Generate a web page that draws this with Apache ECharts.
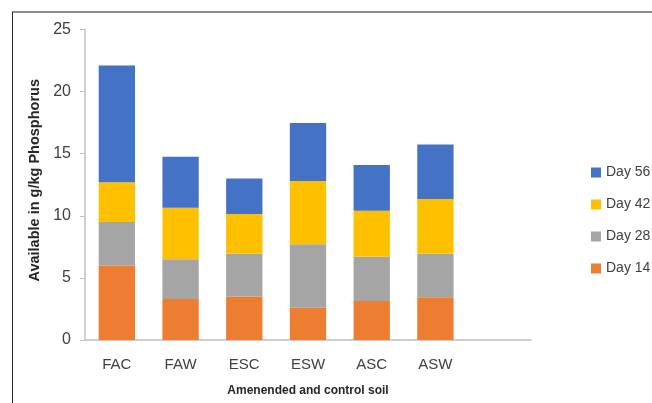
<!DOCTYPE html>
<html>
<head>
<meta charset="utf-8">
<script src="https://cdn.jsdelivr.net/npm/echarts@6/dist/echarts.min.js"></script>
<style>
  html, body { margin: 0; padding: 0; background: #fff; }
  #chart { width: 652px; height: 403px; }
</style>
</head>
<body>
<div id="chart"></div>
<script>
// Soil samples (last slot left empty on the axis)
const categories = ['FAC', 'FAW', 'ESC', 'ESW', 'ASC', 'ASW', ''];
// Available phosphorus increment per sampling day (g/kg)
const day14 = [6.0, 3.3, 3.5, 2.6, 3.15, 3.45];
const day28 = [3.5, 3.2, 3.45, 5.1, 3.55, 3.5];
const day42 = [3.2, 4.15, 3.2, 5.1, 3.7, 4.4];
const day56 = [9.4, 4.1, 2.85, 4.67, 3.7, 4.4];
const yTicks = [0, 5, 10, 15, 20, 25];

const colors = { d14: '#ED7D31', d28: '#A5A5A5', d42: '#FFC000', d56: '#4472C4' };
const textColor = '#404040';
const font = 'Liberation Sans, Arial, sans-serif';

function bar(name, data, color) {
  return {
    name: name,
    type: 'bar',
    stack: 'total',
    barWidth: '57%',
    data: data,
    itemStyle: { color: color },
    emphasis: { disabled: true }
  };
}

const chart = echarts.init(document.getElementById('chart'));
chart.setOption({
  animation: false,
  grid: { left: 85, right: 121, top: 29.5, bottom: 63 },
  legend: {
    orient: 'vertical',
    left: 586,
    top: 160,
    itemWidth: 10,
    itemHeight: 10,
    itemGap: 17,
    icon: 'rect',
    data: ['Day 56', 'Day 42', 'Day 28', 'Day 14'],
    textStyle: { fontFamily: font, fontSize: 14, color: textColor, lineHeight: 15 }
  },
  xAxis: {
    type: 'category',
    data: categories,
    name: 'Amenended and control soil',
    nameLocation: 'middle',
    nameGap: 45,
    nameTextStyle: { fontFamily: font, fontSize: 12, fontWeight: 'bold', color: '#262626' },
    axisLine: { lineStyle: { color: '#BFBFBF', width: 1.5 } },
    axisTick: { show: false },
    axisLabel: { fontFamily: font, fontSize: 15, color: textColor, margin: 17 }
  },
  yAxis: {
    type: 'value',
    min: yTicks[0],
    max: yTicks[yTicks.length - 1],
    interval: 5,
    name: 'Available in g/kg Phosphorus',
    nameLocation: 'middle',
    nameGap: 41,
    nameTextStyle: { fontFamily: font, fontSize: 14.5, fontWeight: 'bold', color: '#262626', padding: [0, 0, 0, 9] },
    axisLine: { show: true, lineStyle: { color: '#BFBFBF', width: 1.5 } },
    axisTick: { show: true, length: 5, lineStyle: { color: '#BFBFBF' } },
    splitLine: { show: false },
    axisLabel: { fontFamily: font, fontSize: 16, color: textColor, margin: 14 }
  },
  graphic: [
    { type: 'line', shape: { x1: 12, y1: 12, x2: 652, y2: 12 }, style: { stroke: '#8C8C8C', lineWidth: 2 } },
    { type: 'line', shape: { x1: 12.5, y1: 12, x2: 12.5, y2: 403 }, style: { stroke: '#262626', lineWidth: 1 } }
  ],
  series: [
    bar('Day 14', day14, colors.d14),
    bar('Day 28', day28, colors.d28),
    bar('Day 42', day42, colors.d42),
    bar('Day 56', day56, colors.d56)
  ]
});
</script>
</body>
</html>
